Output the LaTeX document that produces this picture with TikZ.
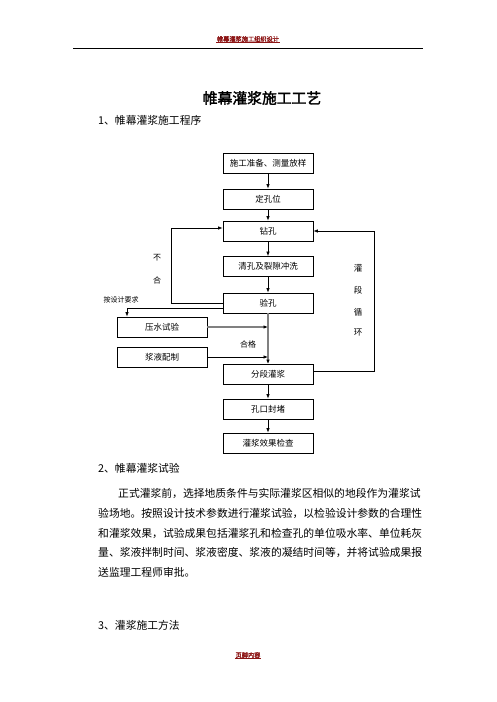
\documentclass[tikz,border=0pt]{standalone}
\usepackage{fontspec}
\setmainfont{Noto Sans CJK SC}
\newfontfamily\titlefont{Noto Sans CJK SC}[FakeBold=2]
\usetikzlibrary{arrows.meta}
\definecolor{headred}{RGB}{140,20,20}
\tikzset{
  stepbox/.style={draw, line width=0.8pt, minimum width=90pt, minimum height=20pt,
    inner sep=0pt, font=\fontsize{8.5pt}{10pt}\selectfont},
  flow/.style={-{Latex[length=4.5pt,width=3.5pt]}, line width=0.7pt},
  grayflow/.style={-{Latex[length=4.5pt,width=3.5pt,color=black]}, draw=gray, line width=1.3pt},
  note/.style={inner sep=0pt, font=\fontsize{8pt}{9pt}\selectfont},
  body/.style={anchor=west, inner sep=0pt, font=\fontsize{10.8pt}{13pt}\selectfont},
  pagemark/.style={inner sep=0.5pt, text=headred, font=\fontsize{6.2pt}{7pt}\titlefont}
}
\begin{document}
\begin{tikzpicture}[x=1pt, y=-1pt]
\useasboundingbox (0,0) rectangle (496,702);

% page header and footer
\node[pagemark] (hdr) at (248,39) {帷幕灌浆施工组织设计};
\draw[headred, line width=0.6pt] (hdr.south west) -- (hdr.south east);
\draw[line width=0.8pt] (73,48) -- (423,48);
\node[pagemark] (ftr) at (248,655) {页脚内容};
\draw[headred, line width=0.6pt] (ftr.south west) -- (ftr.south east);

% headings
\node[inner sep=0pt, font=\fontsize{14.8pt}{16pt}\titlefont] (title) at (262,98) {帷幕灌浆施工工艺};
\node[body] (sec1) at (98,120) {1、帷幕灌浆施工程序};

% flow boxes
\node[stepbox] (prep) at (268,163) {施工准备、测量放样};
\node[stepbox] (locate) at (268,199) {定孔位};
\node[stepbox] (drill) at (268,231) {钻孔};
\node[stepbox] (flush) at (268,266.5) {清孔及裂隙冲洗};
\node[stepbox] (check) at (268,303) {验孔};
\node[stepbox] (water) at (162,327) {压水试验};
\node[stepbox] (slurry) at (162,357) {浆液配制};
\node[stepbox] (grout) at (268,374.5) {分段灌浆};
\node[stepbox] (seal) at (268,409) {孔口封堵};
\node[stepbox] (test) at (268,443) {灌浆效果检查};

\draw[flow] (prep) -- (locate);
\draw[flow] (locate) -- (drill);
\draw[flow] (drill) -- (flush);
\draw[flow] (flush) -- (check);
\draw[grayflow] (check) -- (grout);
\draw[flow] (grout) -- (seal);
\draw[flow] (seal) -- (test);

% side loops
\draw[flow] (check.west) -- ++(-51,0) |- ([yshift=3pt]drill.west);
\draw[flow] ([yshift=-5pt]check.west) -| ([xshift=-35pt]water.north);
\draw[flow] ([yshift=3.5pt]grout.east) -- ++(61,0) |- (drill.east);
\draw[grayflow] (water.east) -- (water.east -| check.south);
\draw[flow] (slurry.east) -- (slurry.east -| check.south);

% loop labels
\node[note] (no1) at (157,258) {不};
\node[note] (no2) at (157,280) {合};
\node[note, font=\fontsize{7pt}{8pt}\selectfont] (req) at (121,300) {按设计要求};
\node[note] (pass) at (248,344) {合格};
\node[note, font=\fontsize{8.5pt}{9pt}\selectfont] (lp1) at (358,268) {灌};
\node[note, font=\fontsize{8.5pt}{9pt}\selectfont] (lp2) at (358,290) {段};
\node[note, font=\fontsize{8.5pt}{9pt}\selectfont] (lp3) at (358,312) {循};
\node[note, font=\fontsize{8.5pt}{9pt}\selectfont] (lp4) at (358,333) {环};

% text below
\node[body] (sec2) at (98,468) {2、帷幕灌浆试验};
\node[body] (par1) at (118,493) {正式灌浆前，选择地质条件与实际灌浆区相似的地段作为灌浆试};
\node[body] (par2) at (98,513) {验场地。按照设计技术参数进行灌浆试验，以检验设计参数的合理性};
\node[body] (par3) at (98,533) {和灌浆效果，试验成果包括灌浆孔和检查孔的单位吸水率、单位耗灰};
\node[body] (par4) at (98,552) {量、浆液拌制时间、浆液密度、浆液的凝结时间等，并将试验成果报};
\node[body] (par5) at (98,572) {送监理工程师审批。};
\node[body] (sec3) at (98,625) {3、灌浆施工方法};
\end{tikzpicture}
\end{document}
